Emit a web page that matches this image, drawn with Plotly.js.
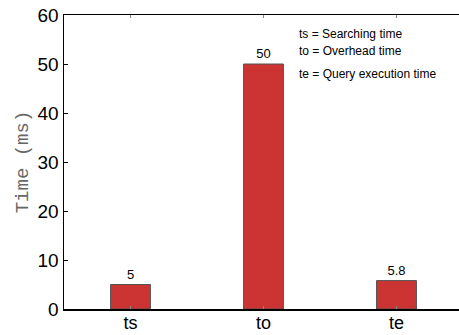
<!DOCTYPE html>
<html>
<head>
<meta charset="utf-8">
<script src="https://cdn.plot.ly/plotly-3.0.1.min.js"></script>
<style>html,body{margin:0;padding:0;background:#fff;}#chart{width:459px;height:335px;}</style>
</head>
<body>
<div id="chart"></div>
<script>
var categories = ["ts", "to", "te"];
var values = [5, 50, 5.8];
var valueLabels = ["5", "50", "5.8"];
var yTicks = [0, 10, 20, 30, 40, 50, 60];
var legendLines = ["ts = Searching time", "to = Overhead time", "te = Query execution time"];

var trace = {
  type: "bar",
  x: categories,
  y: values,
  text: valueLabels,
  textposition: "outside",
  texttemplate: "%{text}",
  cliponaxis: false,
  textfont: {family: "Liberation Sans, Arial, sans-serif", size: 13, color: "#000"},
  width: 0.3,
  marker: {color: "#cc3333", line: {color: "#555555", width: 1}},
  hoverinfo: "none"
};

var annotations = legendLines.map(function (t, i) {
  return {
    text: t, xref: "paper", yref: "paper",
    x: 0.59, y: [0.935, 0.878, 0.8][i],
    xanchor: "left", yanchor: "middle", showarrow: false,
    font: {family: "Liberation Sans, Arial, sans-serif", size: 12, color: "#000"}
  };
});

var layout = {
  width: 459, height: 335,
  margin: {l: 64, r: 0, t: 15, b: 26},
  paper_bgcolor: "#fff", plot_bgcolor: "#fff",
  showlegend: false,
  bargap: 0,
  xaxis: {
    type: "category",
    range: [-0.5, 2.47],
    showline: true, linecolor: "#000", linewidth: 1.5,
    mirror: "ticks",
    ticks: "inside", ticklen: 3, tickcolor: "#888",
    ticklabelstandoff: -3,
    tickfont: {family: "Liberation Sans, Arial, sans-serif", size: 18, color: "#000"},
    showgrid: false, zeroline: false, fixedrange: true
  },
  yaxis: {
    range: [0, 60],
    tickvals: yTicks,
    ticktext: yTicks.map(String),
    showline: true, linecolor: "#000", linewidth: 1.5,
    ticks: "inside", ticklen: 4, tickcolor: "#000",
    tickfont: {family: "Liberation Sans, Arial, sans-serif", size: 19, color: "#000"},
    showgrid: false, zeroline: false, fixedrange: true,
    title: {text: "Time (ms)", standoff: 4,
      font: {family: "Liberation Mono, Courier New, monospace", size: 19, color: "#666"}}
  },
  annotations: annotations
};

Plotly.newPlot("chart", [trace], layout, {displayModeBar: false, staticPlot: true});
</script>
</body>
</html>
